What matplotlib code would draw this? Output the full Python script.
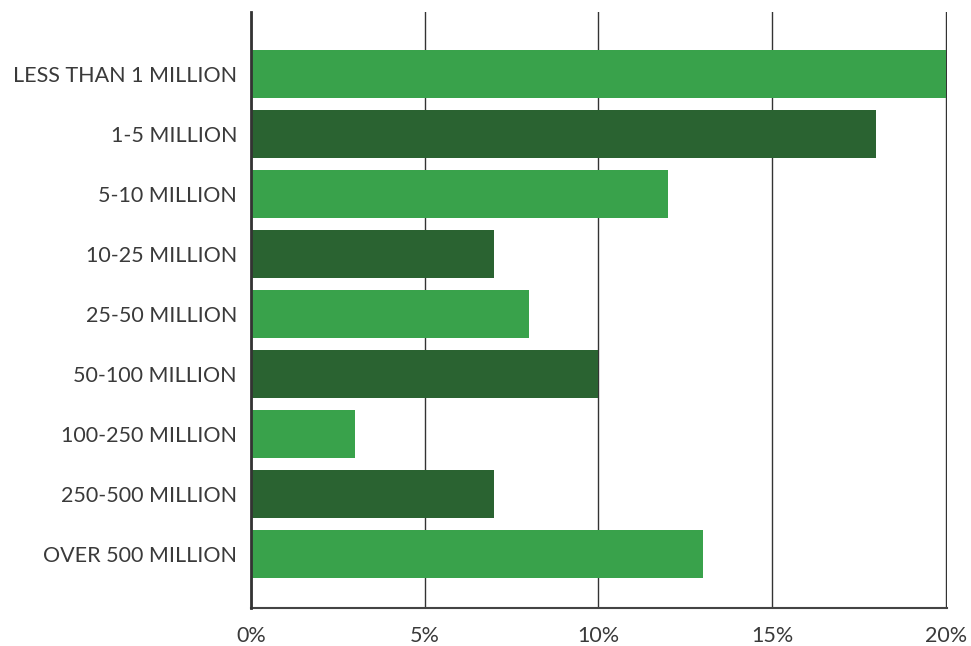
import matplotlib.pyplot as plt
from matplotlib.ticker import FuncFormatter

categories = ["LESS THAN 1 MILLION", "1-5 MILLION", "5-10 MILLION", "10-25 MILLION",
              "25-50 MILLION", "50-100 MILLION", "100-250 MILLION", "250-500 MILLION",
              "OVER 500 MILLION"]
shares = [20, 18, 12, 7, 8, 10, 3, 7, 13]

light = "#39a24b"
dark = "#2a6331"
colors = [light if i % 2 == 0 else dark for i in range(len(categories))]

plt.rcParams['font.family'] = ['Lato', 'DejaVu Sans']

fig = plt.figure(figsize=(9.71, 6.46), dpi=100)
ax = fig.add_axes([251 / 971, 38 / 646, 696 / 971, 596 / 646])

ypos = list(range(len(categories)))
ax.barh(ypos, shares, height=0.8, color=colors, zorder=2)

ax.set_xlim(0, 20.03)
ax.set_ylim(8.9, -1.03)
ax.set_xticks([0, 5, 10, 15, 20])
ax.xaxis.set_major_formatter(FuncFormatter(lambda v, p: f"{v:.0f}%"))
ax.set_yticks(ypos)
ax.set_yticklabels(categories)

ax.grid(axis="x", color="#333333", linewidth=1.0, zorder=1)
ax.grid(axis="y", visible=False)
ax.tick_params(axis="both", length=0, labelsize=15.5, colors="#3a3a3a")
ax.tick_params(axis="x", pad=13)
ax.tick_params(axis="y", pad=10)

for side in ["top", "right"]:
    ax.spines[side].set_visible(False)
ax.spines["left"].set_color("#333333")
ax.spines["left"].set_linewidth(2)
ax.spines["left"].set_zorder(3)
ax.spines["bottom"].set_color("#444444")
ax.spines["bottom"].set_linewidth(1.5)

fig.savefig("out.png", dpi=100)
